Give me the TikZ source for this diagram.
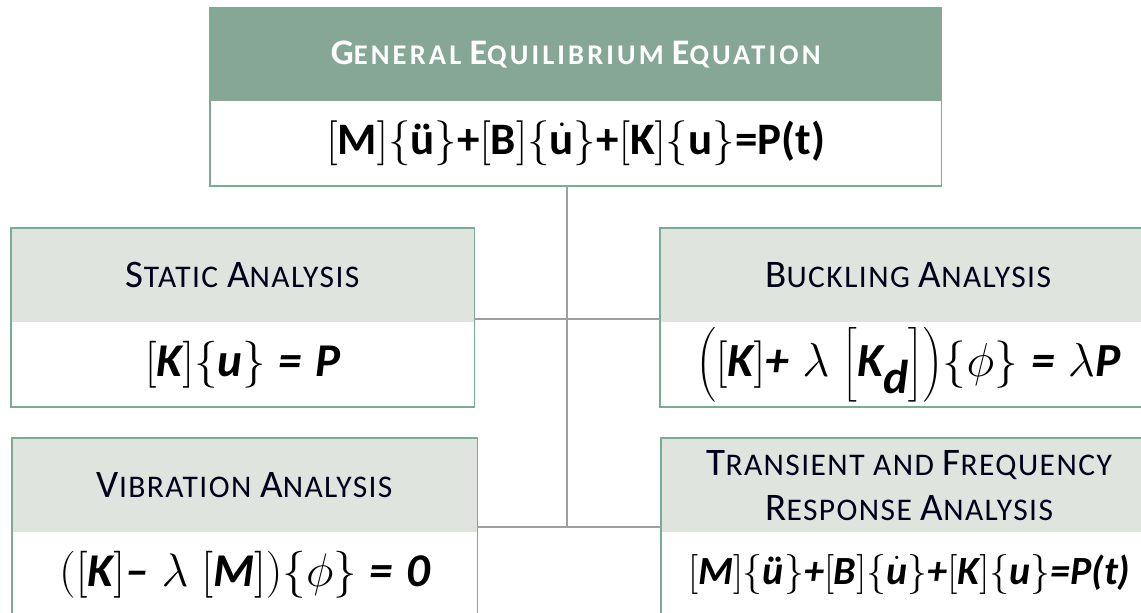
\RequirePackage{fix-cm}
\documentclass[tikz,border=0pt]{standalone}
\usepackage{amsmath}
\usepackage{fontspec}
\setmainfont{Carlito}
\usetikzlibrary{positioning}

\definecolor{headgreen}{RGB}{134,167,149}
\definecolor{headgray}{RGB}{223,228,223}
\definecolor{frameline}{RGB}{122,172,148}
\definecolor{linkgray}{RGB}{160,160,164}

% small caps made by hand: first letter large, the rest smaller and tracked
\newcommand\scsmall{28}
\newcommand\sctrack{0}
\newcommand\capw[2]{#1{\fontsize{\scsmall}{\scsmall}\selectfont\addfontfeature{LetterSpace=\sctrack}#2}}
\newcommand\bi[1]{\mbox{\bfseries\itshape #1}}
\newcommand\bu[1]{\mbox{\bfseries #1}}
\makeatletter
\newcommand\bigdelim[1]{\bBigg@{1.3}{#1}}
\makeatother

\begin{document}
\begin{tikzpicture}[x=1pt,y=-1pt,
  titlebox/.style={anchor=north west,inner sep=0pt,minimum height=94pt,align=center},
  bodybox/.style={below=0pt of #1,inner sep=0pt,minimum height=84pt,fill=white,align=center},
  bigtitle/.style={font=\fontsize{36}{42}\selectfont\bfseries\renewcommand\scsmall{28.5}\renewcommand\sctrack{11},text=white},
  subtitle/.style={font=\fontsize{39}{45}\selectfont\renewcommand\scsmall{31.5}\renewcommand\sctrack{4.5},text=black!90!blue},
  eqfont/.style={font=\fontsize{#1}{#1}\selectfont},
  frame/.style={draw=frameline,line width=1.6pt},
  link/.style={draw=linkgray,line width=2.6pt}]

  \useasboundingbox (0,0) rectangle (1141,613);
  \clip (0,0) rectangle (1141,613);

  % top box
  \node[titlebox,bigtitle,fill=headgreen,minimum width=731pt,minimum height=93pt] (gentitle) at (210,8)
    {\capw{G}{ENERAL} \capw{E}{QUILIBRIUM} \capw{E}{QUATION}};
  \node[bodybox=gentitle,eqfont=45,minimum width=731pt] (geneq)
    {$[\bu{M}]\{\bu{\"u}\}\bu{+}[\bu{B}]\{\dot{\bu{u}}\}\bu{+}[\bu{K}]\{\bu{u}\}\bu{=P(t)}$};

  % left column
  \node[titlebox,subtitle,fill=headgray,minimum width=463pt] (stattitle) at (11,228)
    {\capw{S}{TATIC} \capw{A}{NALYSIS}};
  \node[bodybox=stattitle,eqfont=47,minimum width=463pt] (stateq)
    {$[\bi{K}]\{\bi{u}\}\;\bi{=}\;\bi{P}$};

  \node[titlebox,subtitle,fill=headgray,minimum width=465pt] (vibtitle) at (12,438)
    {\capw{V}{IBRATION} \capw{A}{NALYSIS}};
  \node[bodybox=vibtitle,eqfont=47,minimum width=465pt] (vibeq)
    {$([\bi{K}]\bi{--}\;\lambda\;[\bi{M}])\{\phi\}\;\bi{=}\;\bi{0}$};

  % right column
  \node[titlebox,subtitle,fill=headgray,minimum width=496pt] (bucktitle) at (660,228)
    {\capw{B}{UCKLING} \capw{A}{NALYSIS}};
  \node[bodybox=bucktitle,eqfont=47.5,minimum width=496pt] (buckeq)
    {$\mathopen{\bigdelim(}[\bi{K}]\bi{+}\;\lambda\;\mathopen{\bigdelim[}\bi{K}_{\bi{d}}\mathclose{\bigdelim]}\mathclose{\bigdelim)}\{\phi\}\;\bi{=}\;\lambda\bi{P}$};

  \node[titlebox,subtitle,fill=headgray,minimum width=496pt] (transtitle) at (661,438)
    {\capw{T}{RANSIENT AND} \capw{F}{REQUENCY}\\ \capw{R}{ESPONSE} \capw{A}{NALYSIS}};
  \node[bodybox=transtitle,eqfont=40,minimum width=496pt] (transeq)
    {$[\bi{M}]\{\bi{\"u}\}\bi{+}[\bi{B}]\{\dot{\bi{u}}\}\bi{+}[\bi{K}]\{\bi{u}\}\bi{=P(t)}$};

  % frames round each box
  \foreach \t/\b in {gentitle/geneq,stattitle/stateq,vibtitle/vibeq,bucktitle/buckeq,transtitle/transeq}
    \draw[frame] (\t.north west) rectangle (\b.south east);

  % connectors
  \coordinate (upjoin) at (567,319);
  \coordinate (lowjoin) at (567,527);
  \draw[link] (geneq.south -| upjoin) -- (lowjoin);
  \draw[link] (upjoin -| stattitle.east) -- (upjoin -| bucktitle.west);
  \draw[link] (lowjoin -| vibtitle.east) -- (lowjoin -| transtitle.west);
\end{tikzpicture}
\end{document}
